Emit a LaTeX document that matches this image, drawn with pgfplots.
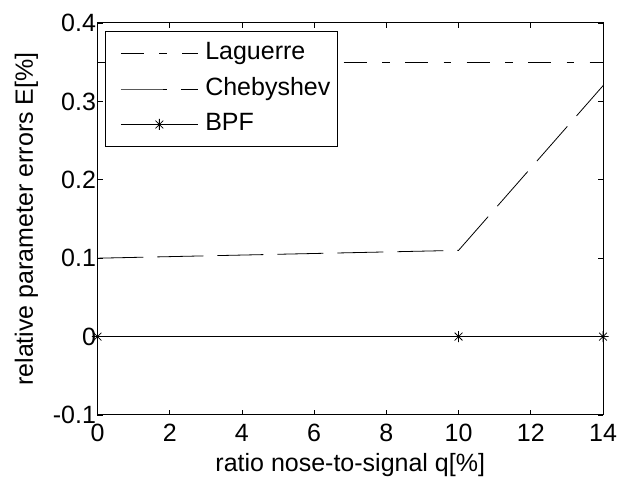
\documentclass[border=0pt]{standalone}
\usepackage{fontspec}
\setmainfont{Liberation Sans}
\usepackage{pgfplots}
\pgfplotsset{compat=1.18}

% MATLAB style asterisk: + and x together
\pgfdeclareplotmark{mstar}{%
  \pgfpathmoveto{\pgfqpoint{-\pgfplotmarksize}{0pt}}%
  \pgfpathlineto{\pgfqpoint{\pgfplotmarksize}{0pt}}%
  \pgfpathmoveto{\pgfqpoint{0pt}{-\pgfplotmarksize}}%
  \pgfpathlineto{\pgfqpoint{0pt}{\pgfplotmarksize}}%
  \pgfpathmoveto{\pgfqpoint{-0.707\pgfplotmarksize}{-0.707\pgfplotmarksize}}%
  \pgfpathlineto{\pgfqpoint{0.707\pgfplotmarksize}{0.707\pgfplotmarksize}}%
  \pgfpathmoveto{\pgfqpoint{-0.707\pgfplotmarksize}{0.707\pgfplotmarksize}}%
  \pgfpathlineto{\pgfqpoint{0.707\pgfplotmarksize}{-0.707\pgfplotmarksize}}%
  \pgfusepathqstroke}

\newcommand{\fs}{\fontsize{25}{29}\selectfont}

\begin{document}
\begin{tikzpicture}
  % page frame 620 x 478, axis box at (97.5,23)-(603,415) from top left
  \useasboundingbox (-97.5pt,-63pt) rectangle (522.5pt,415pt);
  \begin{axis}[
      scale only axis,
      width=505.5pt, height=392pt,
      xmin=0, xmax=14, ymin=-0.1, ymax=0.4,
      xtick={0,2,...,14},
      ytick={-0.1,0,0.1,0.2,0.3,0.4},
      yticklabels={-0.1,0,0.1,0.2,0.3,0.4},
      tick align=inside,
      major tick length=5pt,
      every tick/.style={black, line width=0.8pt},
      axis line style={line width=1pt},
      font=\fs,
      tick label style={font=\fs},
      xticklabel style={yshift=-6pt},
      yticklabel style={xshift=2pt},
      /pgf/number format/assume math mode=true,
      xlabel={ratio nose-to-signal q[\%]},
      ylabel={relative parameter errors E[\%]},
      xlabel style={at={(axis description cs:0.5,0)}, anchor=base, yshift=-56pt},
      ylabel style={at={([xshift=-64.5pt]axis description cs:0,0.5)}, anchor=base},
      legend cell align=left,
      legend style={
          at={(0.0148,0.9796)}, anchor=north west,
          draw=black, line width=1pt,
          font=\fs,
          inner xsep=7pt, inner ysep=10.5pt,
          nodes={inner sep=0pt, text height=18pt, text depth=5pt},
          row sep=12.5pt,
          /tikz/every odd column/.append style={column sep=7pt},
      },
      legend image code/.code={
          \path (0pt,0pt);
          \draw[mark repeat=2, mark phase=2, #1]
            plot coordinates {(8pt,0pt) (46.5pt,0pt) (85pt,0pt)};
      },
  ]

  \addplot[black, line width=0.8pt, dash pattern=on 23pt off 15.5pt on 7.5pt off 15.5pt]
    coordinates {(0,0.35) (10,0.35) (14,0.35)};
  \addlegendentry{Laguerre}

  \addplot[black, line width=0.8pt, dash pattern=on 46pt off 14pt]
    coordinates {(0,0.10) (10,0.11) (14,0.32)};
  \addlegendentry{Chebyshev}

  \addplot[black, line width=0.8pt, mark=mstar, mark size=5.5pt,
           mark options={solid}]
    coordinates {(0,0) (10,0) (14,0)};
  \addlegendentry{BPF}

  \end{axis}
\end{tikzpicture}
\end{document}
